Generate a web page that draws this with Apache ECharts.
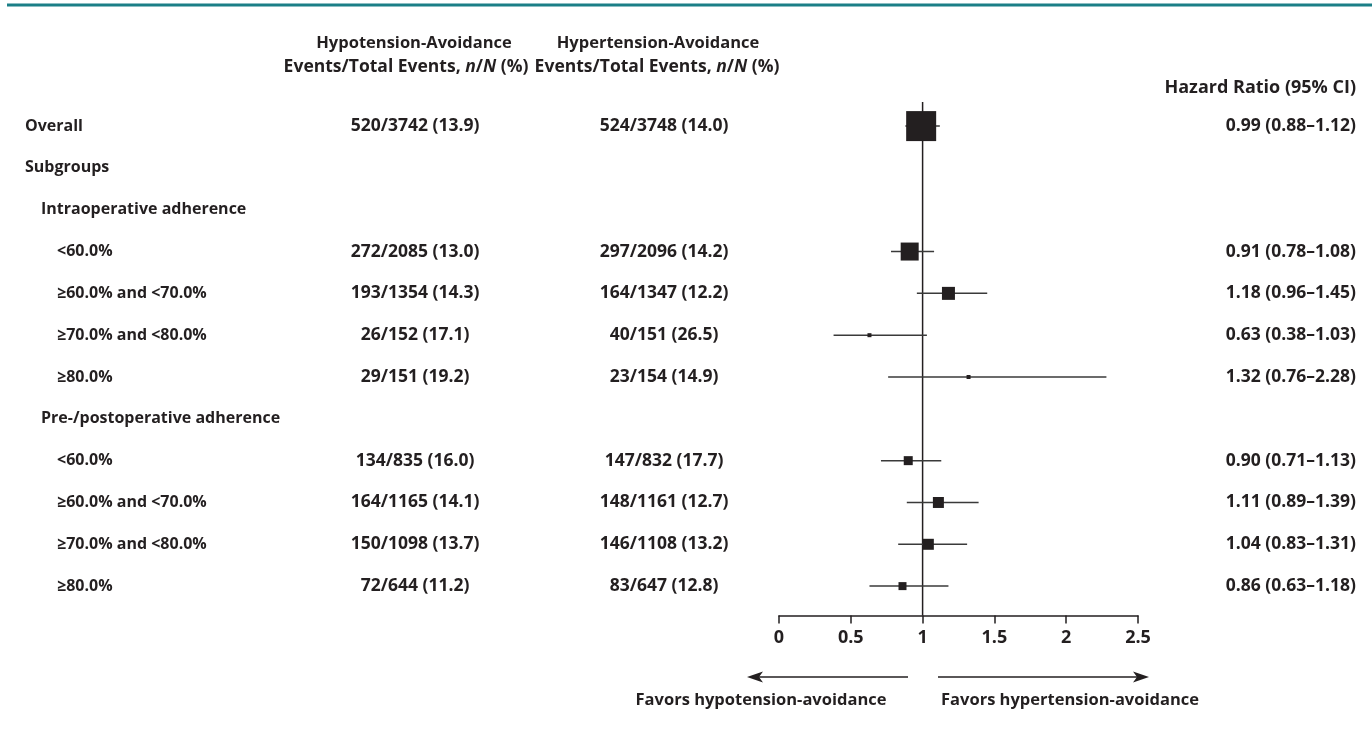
<!DOCTYPE html>
<html>
<head>
<meta charset="utf-8">
<script src="https://cdn.jsdelivr.net/npm/echarts@6/dist/echarts.min.js"></script>
<style>
html,body{margin:0;padding:0;background:#fff;}
#chart{width:1372px;height:732px;}
</style>
</head>
<body>
<div id="chart"></div>
<script>
// ---------- DATA ----------
const rowLabels = ['Overall','Subgroups','Intraoperative adherence','<60.0%','≥60.0% and <70.0%','≥70.0% and <80.0%','≥80.0%','Pre-/postoperative adherence','<60.0%','≥60.0% and <70.0%','≥70.0% and <80.0%','≥80.0%'];
const rowIndent = [0,0,1,2,2,2,2,1,2,2,2,2];
const hypoN     = [520,null,null,272,193,26,29,null,134,164,150,72];
const hypoTotal = [3742,null,null,2085,1354,152,151,null,835,1165,1098,644];
const hypoPct   = ['13.9',null,null,'13.0','14.3','17.1','19.2',null,'16.0','14.1','13.7','11.2'];
const hyperN     = [524,null,null,297,164,40,23,null,147,148,146,83];
const hyperTotal = [3748,null,null,2096,1347,151,154,null,832,1161,1108,647];
const hyperPct   = ['14.0',null,null,'14.2','12.2','26.5','14.9',null,'17.7','12.7','13.2','12.8'];
const hr   = [0.99,null,null,0.91,1.18,0.63,1.32,null,0.90,1.11,1.04,0.86];
const hrLo = [0.88,null,null,0.78,0.96,0.38,0.76,null,0.71,0.89,0.83,0.63];
const hrHi = [1.12,null,null,1.08,1.45,1.03,2.28,null,1.13,1.39,1.31,1.18];
const weight = [30,null,null,18,13,4,4,null,9,11,11,8]; // square size (relative weight)
const xTicks = [0,0.5,1,1.5,2,2.5];

// ---------- LAYOUT ----------
const INK = '#231f20';
const FONT = '"Open Sans", sans-serif';
const FS_LABEL = 16, FS_NUM = 17.5, FS_HEAD = 16.5, FS_HEAD2 = 17.5, FS_AXIS = 18;
const gridTop = 101, rowH = 41.82, yMin = -0.6, yMax = 11.7;
const gridH = (yMax - yMin) * rowH;
const plotLeft = 779, plotW = 359;
const colLabelX = [25, 41, 57];
const colHypoX = 415, colHyperX = 664, colHrX = 1356;

function fmt2(v){ return v.toFixed(2); }

const forestData = [];
hr.forEach((v,i)=>{ if(v!=null) forestData.push([v, i, hrLo[i], hrHi[i], weight[i]]); });

function textSeries(items, align, fs){
  return {
    type:'custom', xAxisIndex:1, yAxisIndex:1, silent:true, clip:false,
    data: items.map(d=>[d.x, d.row]),
    renderItem:(params, api)=>{
      const p = api.coord([api.value(0), api.value(1)]);
      const it = items[params.dataIndex];
      return {type:'text', style:{text: it.text, x:p[0], y:p[1], align: align, verticalAlign:'middle',
        font: 'bold '+fs+'px '+FONT, fill: INK}};
    }
  };
}

const labelItems = rowLabels.map((t,i)=>({x: colLabelX[rowIndent[i]], row:i, text:t}));
const hypoItems = [], hyperItems = [], hrItems = [];
rowLabels.forEach((_,i)=>{
  if(hypoN[i]!=null) hypoItems.push({x:colHypoX,row:i,text:hypoN[i]+'/'+hypoTotal[i]+' ('+hypoPct[i]+')'});
  if(hyperN[i]!=null) hyperItems.push({x:colHyperX,row:i,text:hyperN[i]+'/'+hyperTotal[i]+' ('+hyperPct[i]+')'});
  if(hr[i]!=null) hrItems.push({x:colHrX,row:i,text:fmt2(hr[i])+' ('+fmt2(hrLo[i])+'–'+fmt2(hrHi[i])+')'});
});

const chart = echarts.init(document.getElementById('chart'), null, {renderer:'canvas'});

function headRich(fs){
  return {
    b:{fontFamily:FONT, fontWeight:'bold', fontSize:fs, fill:INK, color:INK},
    i:{fontFamily:FONT, fontWeight:'bold', fontStyle:'italic', fontSize:fs, fill:INK, color:INK}
  };
}
function headText(x,y,txt,fs){
  return {type:'text', x:x, y:y, silent:true, style:{text:txt, align:'center', verticalAlign:'middle',
    font:'bold '+fs+'px '+FONT, fill:INK, rich: headRich(fs)}};
}

const option = {
  animation:false,
  backgroundColor:'#ffffff',
  grid:[
    {left:plotLeft, width:plotW, top:gridTop, height:gridH, containLabel:false},
    {left:0, width:1372, top:gridTop, height:gridH, containLabel:false}
  ],
  xAxis:[
    {type:'value', gridIndex:0, min:0, max:2.5, interval:0.5,
      axisLine:{show:true, onZero:false, lineStyle:{color:INK, width:1.5}},
      axisTick:{show:true, length:8, lineStyle:{color:INK, width:1.5}},
      axisLabel:{show:true, margin:13, color:INK, fontFamily:FONT, fontWeight:'bold', fontSize:FS_AXIS,
        formatter:(v)=> xTicks.indexOf(v)>=0 ? String(v) : ''},
      splitLine:{show:false}},
    {type:'value', gridIndex:1, min:0, max:1372, show:false}
  ],
  yAxis:[
    {type:'value', gridIndex:0, min:yMin, max:yMax, inverse:true, show:false},
    {type:'value', gridIndex:1, min:yMin, max:yMax, inverse:true, show:false}
  ],
  series:[
    {type:'line', xAxisIndex:0, yAxisIndex:0, data:[[1,-0.574],[1,yMax]], symbol:'none', silent:true,
      lineStyle:{color:INK, width:1.5}, z:1},
    {type:'custom', xAxisIndex:0, yAxisIndex:0, silent:true, clip:false, z:3,
      data: forestData,
      renderItem:(params, api)=>{
        const c = api.coord([api.value(0), api.value(1)]);
        const lo = api.coord([api.value(2), api.value(1)]);
        const hi = api.coord([api.value(3), api.value(1)]);
        const s = api.value(4);
        return {type:'group', children:[
          {type:'line', shape:{x1:lo[0], y1:lo[1], x2:hi[0], y2:hi[1]}, style:{stroke:'#3a3a3a', lineWidth:1.5}},
          {type:'rect', shape:{x:c[0]-s/2, y:c[1]-s/2, width:s, height:s}, style:{fill:INK}}
        ]};
      }
    },
    textSeries(labelItems,'left',FS_LABEL),
    textSeries(hypoItems,'center',FS_NUM),
    textSeries(hyperItems,'center',FS_NUM),
    textSeries(hrItems,'right',FS_NUM)
  ],
  graphic:[
    {type:'line', shape:{x1:7, y1:5, x2:1372, y2:5}, style:{stroke:'#1b7f87', lineWidth:3}, silent:true},
    headText(414, 43, 'Hypotension-Avoidance', FS_HEAD),
    headText(406, 67, '{b|Events/Total Events, }{i|n}{b|/}{i|N}{b| (%)}', FS_HEAD2),
    headText(658, 43, 'Hypertension-Avoidance', FS_HEAD),
    headText(657, 67, '{b|Events/Total Events, }{i|n}{b|/}{i|N}{b| (%)}', FS_HEAD2),
    {type:'text', x:1356, y:88, silent:true, style:{text:'Hazard Ratio (95% CI)', align:'right', verticalAlign:'middle', font:'bold 18px '+FONT, fill:INK}},
    // arrows
    {type:'line', shape:{x1:758, y1:677, x2:908, y2:677}, style:{stroke:INK, lineWidth:1.5}, silent:true},
    {type:'polygon', shape:{points:[[747,677],[763,671.5],[759,677],[763,682.5]]}, style:{fill:INK}, silent:true},
    {type:'line', shape:{x1:938, y1:677, x2:1138, y2:677}, style:{stroke:INK, lineWidth:1.5}, silent:true},
    {type:'polygon', shape:{points:[[1149,677],[1133,671.5],[1137,677],[1133,682.5]]}, style:{fill:INK}, silent:true},
    {type:'text', x:761, y:700, silent:true, style:{text:'Favors hypotension-avoidance', align:'center', verticalAlign:'middle', font:'bold 16.5px '+FONT, fill:INK}},
    {type:'text', x:1070, y:700, silent:true, style:{text:'Favors hypertension-avoidance', align:'center', verticalAlign:'middle', font:'bold 16.5px '+FONT, fill:INK}}
  ]
};
chart.setOption(option);
</script>
</body>
</html>
